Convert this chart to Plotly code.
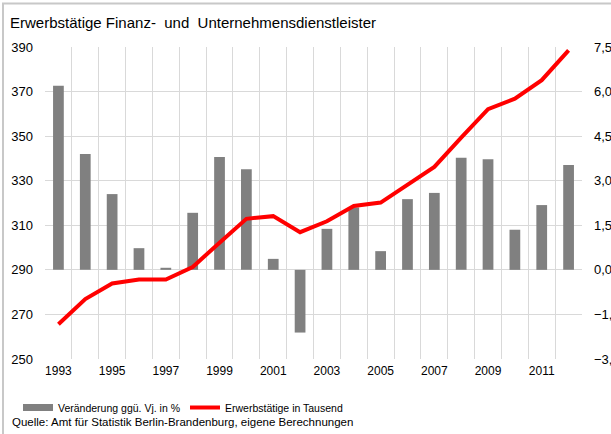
import plotly.graph_objects as go

years = list(range(1993, 2013))
veraenderung = [6.2, 3.9, 2.55, 0.73, 0.07, 1.92, 3.8, 3.39, 0.37, -2.11,
                1.38, 2.1, 0.63, 2.38, 2.59, 3.77, 3.72, 1.35, 2.18, 3.53]
erwerbstaetige = [265.6, 276.9, 283.9, 285.7, 285.7, 291.3, 302.2, 312.9, 314.1, 306.9,
                  311.8, 318.7, 320.2, 328.4, 336.2, 349.3, 362.1, 366.8, 375.1, 388.5]
xtick_years = list(range(1993, 2013, 2))
left_ticks = list(range(250, 391, 20))
right_ticks = [-3.0, -1.5, 0.0, 1.5, 3.0, 4.5, 6.0, 7.5]

FONT = "Liberation Sans, Arial, sans-serif"
GRID = "#d9d9d9"

fig = go.Figure()
fig.add_trace(go.Bar(x=years, y=veraenderung, name="Veränderung ggü. Vj. in %",
                     marker=dict(color="#808080", line=dict(width=0)), width=0.4,
                     yaxis="y", showlegend=False, legendgroup="bar"))
# legend entry for bars (wide rectangle like the reference)
fig.add_trace(go.Scatter(x=[None], y=[None], name="Veränderung ggü. Vj. in %",
                         mode="lines", line=dict(color="#808080", width=7),
                         yaxis="y", legendgroup="bar"))
fig.add_trace(go.Scatter(x=years, y=erwerbstaetige, name="Erwerbstätige in Tausend",
                         mode="lines", line=dict(color="#ff0000", width=4),
                         yaxis="y2"))

W, H = 611, 434
L, R, T, B = 45, 582, 47, 359
def px(x): return (x - L) / (R - L)
def py(y): return (B - y) / (B - T)

fig.update_layout(
    width=W, height=H,
    margin=dict(l=L, r=W - R, t=T, b=H - B, autoexpand=False),
    paper_bgcolor="white", plot_bgcolor="white",
    separators=",.",
    font=dict(family=FONT, size=13, color="#000000"),
    showlegend=True,
    legend=dict(orientation="h", x=px(18), y=py(393), xanchor="left", yanchor="top",
                font=dict(size=10.5), traceorder="normal", itemwidth=30,
                bgcolor="rgba(0,0,0,0)"),
    xaxis=dict(range=[1992.5, 2012.5], tickmode="array", tickvals=xtick_years,
               ticktext=[str(y) for y in xtick_years], showgrid=False, zeroline=False,
               showline=False, ticks="", ticklabelstandoff=3, tickfont=dict(size=12),
               minor=dict(tick0=1992.5, dtick=1, showgrid=True, gridcolor=GRID, gridwidth=1, ticks="")),
    yaxis=dict(side="right", range=[-3, 7.5], tickmode="array", tickvals=right_ticks,
               tickformat=".1f", showgrid=True, gridcolor=GRID, gridwidth=1, zeroline=False,
               showline=False, ticks="", ticklabelstandoff=11),
    yaxis2=dict(side="left", overlaying="y", range=[250, 390], tickmode="array",
                tickvals=left_ticks, showgrid=False, zeroline=False, showline=False,
                ticks="", ticklabelstandoff=11),
    annotations=[
        dict(text="Erwerbstätige Finanz-  und  Unternehmensdienstleister", xref="paper", yref="paper",
             x=px(8), y=py(22), xanchor="left", yanchor="middle", showarrow=False,
             font=dict(size=15, family=FONT)),
        dict(text="Quelle: Amt für Statistik Berlin-Brandenburg, eigene Berechnungen",
             xref="paper", yref="paper", x=px(10), y=py(422), xanchor="left", yanchor="middle",
             showarrow=False, font=dict(size=11.5, family=FONT)),
    ],
    shapes=[
        dict(type="rect", xref="paper", yref="paper", x0=px(3), x1=px(620), y0=py(445), y1=py(3.5),
             line=dict(color="#c8c8c8", width=2), fillcolor="rgba(0,0,0,0)", layer="below"),
    ],
)

fig.write_html("out.html", config={"displayModeBar": False},
               post_script="document.body.style.margin='0';document.body.style.overflow='hidden';")
